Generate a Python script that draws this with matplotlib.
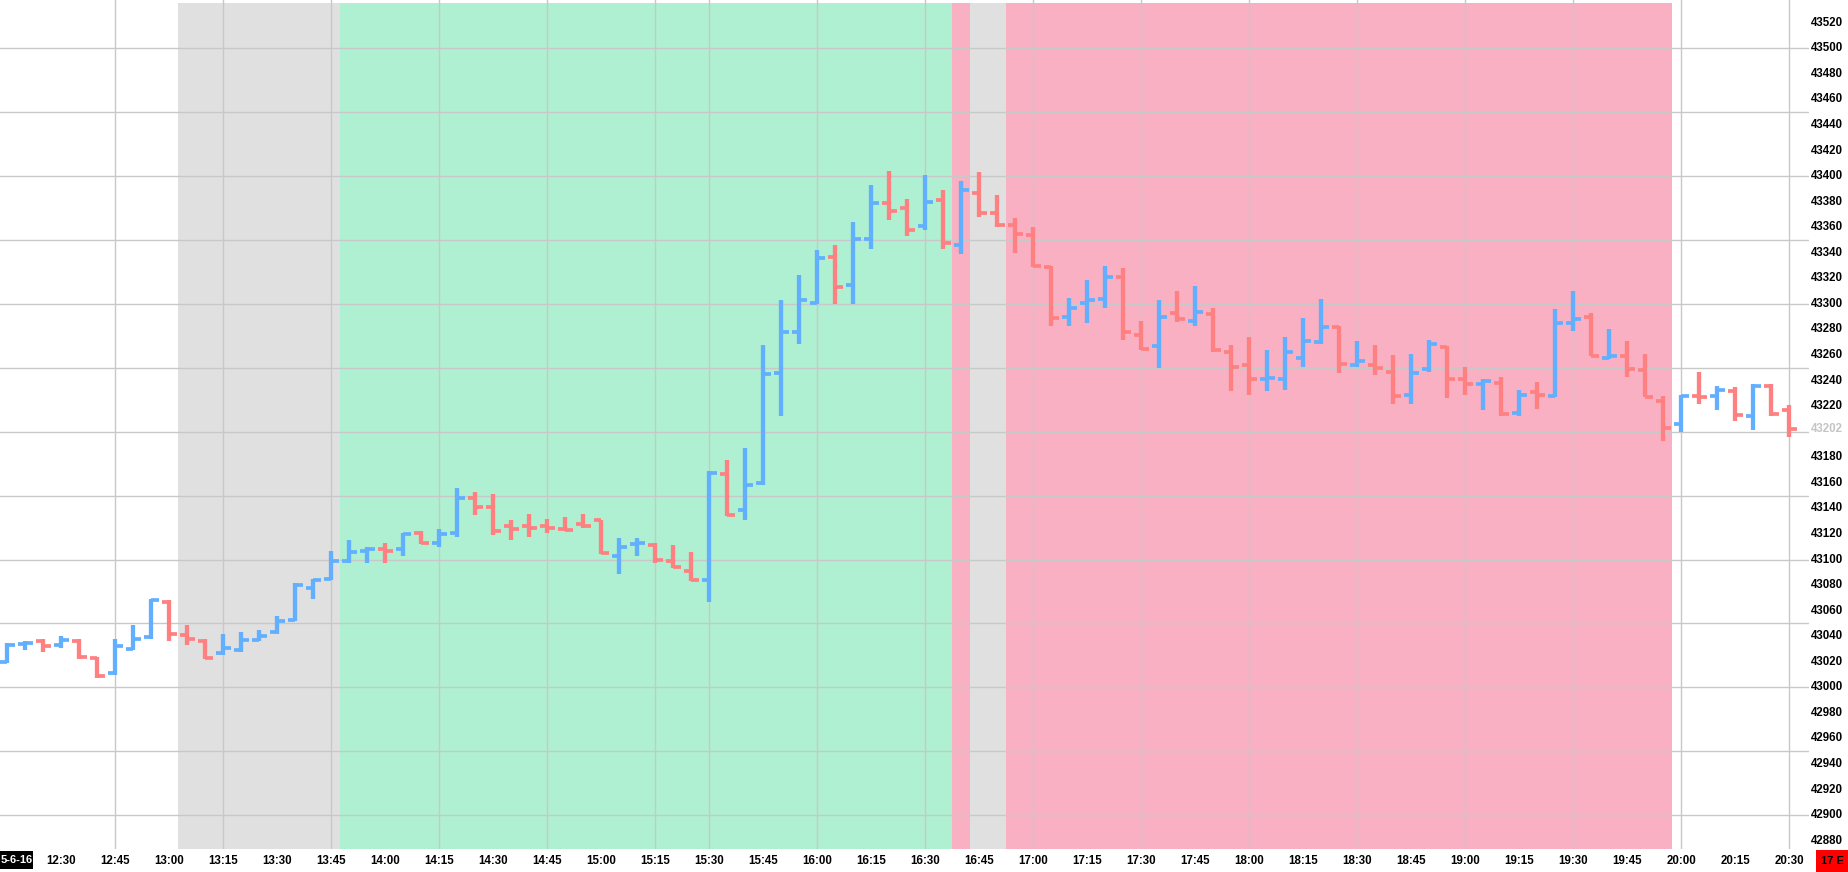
import matplotlib
matplotlib.use('Agg')
import matplotlib.pyplot as plt
from matplotlib.patches import Rectangle
from matplotlib.transforms import blended_transform_factory

# ---------------- data ----------------
bar_times = ['12:15', '12:20', '12:25', '12:30', '12:35', '12:40', '12:45', '12:50', '12:55',
             '13:00', '13:05', '13:10', '13:15', '13:20', '13:25', '13:30', '13:35', '13:40',
             '13:45', '13:50', '13:55', '14:00', '14:05', '14:10', '14:15', '14:20', '14:25',
             '14:30', '14:35', '14:40', '14:45', '14:50', '14:55', '15:00', '15:05', '15:10',
             '15:15', '15:20', '15:25', '15:30', '15:35', '15:40', '15:45', '15:50', '15:55',
             '16:00', '16:05', '16:10', '16:15', '16:20', '16:25', '16:30', '16:35', '16:40',
             '16:45', '16:50', '16:55', '17:00', '17:05', '17:10', '17:15', '17:20', '17:25',
             '17:30', '17:35', '17:40', '17:45', '17:50', '17:55', '18:00', '18:05', '18:10',
             '18:15', '18:20', '18:25', '18:30', '18:35', '18:40', '18:45', '18:50', '18:55',
             '19:00', '19:05', '19:10', '19:15', '19:20', '19:25', '19:30', '19:35', '19:40',
             '19:45', '19:50', '19:55', '20:00', '20:05', '20:10', '20:15', '20:20', '20:25',
             '20:30']

opens = [43020, 43034, 43036, 43033, 43036, 43023, 43011, 43030, 43039,
         43067, 43041, 43036, 43027, 43029, 43037, 43043, 43053, 43078,
         43085, 43099, 43107, 43108, 43108, 43121, 43113, 43121, 43148,
         43141, 43126, 43126, 43126, 43124, 43128, 43131, 43103, 43112,
         43111, 43099, 43091, 43084, 43167, 43139, 43160, 43246, 43278,
         43301, 43337, 43315, 43351, 43379, 43375, 43361, 43381, 43346,
         43387, 43371, 43362, 43354, 43329, 43290, 43301, 43304, 43321,
         43276, 43267, 43293, 43287, 43292, 43262, 43252, 43241, 43241,
         43258, 43270, 43282, 43252, 43252, 43247, 43229, 43249, 43266,
         43241, 43237, 43238, 43215, 43231, 43228, 43285, 43290, 43258,
         43259, 43248, 43224, 43206, 43228, 43228, 43232, 43212, 43236,
         43217]

highs = [43035, 43036, 43038, 43040, 43038, 43024, 43038, 43049, 43069,
         43068, 43049, 43038, 43042, 43043, 43045, 43056, 43082, 43085,
         43107, 43115, 43110, 43113, 43121, 43122, 43124, 43156, 43153,
         43151, 43131, 43136, 43132, 43133, 43136, 43131, 43117, 43117,
         43113, 43111, 43106, 43169, 43178, 43187, 43268, 43303, 43323,
         43342, 43346, 43364, 43393, 43404, 43382, 43401, 43389, 43396,
         43403, 43385, 43367, 43360, 43330, 43305, 43319, 43330, 43328,
         43287, 43303, 43310, 43314, 43297, 43268, 43274, 43264, 43274,
         43289, 43304, 43283, 43271, 43268, 43260, 43261, 43272, 43267,
         43251, 43241, 43243, 43233, 43239, 43296, 43310, 43293, 43280,
         43271, 43261, 43228, 43229, 43247, 43236, 43235, 43237, 43237,
         43221]

lows = [43019, 43029, 43028, 43031, 43022, 43007, 43010, 43029, 43038,
        43036, 43033, 43022, 43025, 43028, 43036, 43042, 43052, 43069,
        43084, 43097, 43097, 43097, 43103, 43112, 43110, 43118, 43135,
        43119, 43115, 43118, 43121, 43122, 43125, 43104, 43089, 43103,
        43097, 43093, 43083, 43067, 43134, 43131, 43158, 43212, 43269,
        43300, 43300, 43300, 43343, 43366, 43353, 43358, 43343, 43339,
        43368, 43360, 43340, 43329, 43283, 43283, 43285, 43297, 43272,
        43264, 43250, 43286, 43283, 43262, 43232, 43229, 43232, 43233,
        43251, 43269, 43246, 43251, 43244, 43222, 43222, 43247, 43226,
        43229, 43217, 43212, 43212, 43218, 43227, 43279, 43259, 43257,
        43243, 43227, 43193, 43200, 43222, 43217, 43208, 43201, 43212,
        43196]

closes = [43033, 43035, 43032, 43037, 43024, 43009, 43032, 43038, 43068,
          43042, 43038, 43023, 43031, 43037, 43040, 43052, 43080, 43084,
          43099, 43106, 43108, 43107, 43120, 43113, 43120, 43148, 43141,
          43122, 43124, 43125, 43125, 43123, 43126, 43105, 43110, 43113,
          43100, 43094, 43084, 43168, 43135, 43158, 43245, 43278, 43303,
          43336, 43313, 43351, 43379, 43373, 43358, 43380, 43348, 43389,
          43371, 43362, 43355, 43330, 43289, 43297, 43303, 43321, 43278,
          43265, 43290, 43288, 43294, 43264, 43251, 43241, 43242, 43262,
          43271, 43282, 43253, 43255, 43250, 43228, 43246, 43269, 43241,
          43237, 43240, 43214, 43229, 43229, 43285, 43288, 43259, 43259,
          43249, 43227, 43203, 43228, 43227, 43233, 43213, 43236, 43214,
          43202]

time_labels = ['12:30', '12:45', '13:00', '13:15', '13:30', '13:45', '14:00', '14:15', '14:30',
               '14:45', '15:00', '15:15', '15:30', '15:45', '16:00', '16:15', '16:30', '16:45',
               '17:00', '17:15', '17:30', '17:45', '18:00', '18:15', '18:30', '18:45', '19:00',
               '19:15', '19:30', '19:45', '20:00', '20:15', '20:30']

vgrid_times = ['12:45', '13:15', '13:45', '14:15', '14:45', '15:15', '15:30', '16:00', '16:30',
               '17:00', '17:30', '18:00', '18:30', '19:00', '19:30', '20:00', '20:30']

hgrid_prices = [42900, 42950, 43000, 43050, 43100, 43150, 43200, 43250, 43300, 43350,
                43400, 43450, 43500]

price_labels = [42880, 42900, 42920, 42940, 42960, 42980, 43000, 43020, 43040, 43060,
                43080, 43100, 43120, 43140, 43160, 43180, 43220, 43240, 43260, 43280,
                43300, 43320, 43340, 43360, 43380, 43400, 43420, 43440, 43460, 43480,
                43500, 43520]
last_price = 43202

session_start = ['13:05', '13:50', '16:40', '16:45', '16:55']
session_end = ['13:45', '16:35', '16:40', '16:50', '19:55']
session_colors = ['#e0e0e0', '#aef0d1', '#f8b0c2', '#e0e0e0', '#f8b0c2']

date_label = '5-6-16'
corner_label = '17 E'

# ---------------- style ----------------
W, H = 1848, 872
DPI = 100
UP = '#61affe'
DOWN = '#fe8080'
GRID = '#c8c8c8'
FONT = ['Liberation Sans', 'DejaVu Sans']
PX = 72.0 / DPI  # points per pixel

fig = plt.figure(figsize=(W / DPI, H / DPI), dpi=DPI, facecolor='white')
plot_bottom_px = 849
plot_right_px = 1809
ax = fig.add_axes([0, (H - plot_bottom_px) / H, plot_right_px / W, plot_bottom_px / H])
ax.set_facecolor('white')
for s in ax.spines.values():
    s.set_visible(False)
ax.set_xticks([])
ax.set_yticks([])

pos = {t: i for i, t in enumerate(bar_times)}
ax.set_xlim(-0.406, 100.094)
ax.set_ylim(42873.5, 43537.8)

# sessions shading
shade_top = (plot_bottom_px - 3) / plot_bottom_px
for s, e, c in zip(session_start, session_end, session_colors):
    ax.axvspan(pos[s] - 0.5, pos[e] + 0.5, ymin=0, ymax=shade_top, color=c, lw=0, zorder=0)

# grid
for p in hgrid_prices:
    ax.axhline(p, color=GRID, lw=1.0, zorder=1)
for t in vgrid_times:
    ax.axvline(pos[t], color=GRID, lw=1.0, zorder=1)

# OHLC bars
xs = list(range(len(bar_times)))
cols = [UP if c >= o else DOWN for o, c in zip(opens, closes)]
tick_len = 7.5 / 18.0
ax.vlines(xs, lows, highs, colors=cols, linewidth=4.3 * PX, capstyle='butt', zorder=3)
ax.hlines(opens, [x - tick_len for x in xs], xs, colors=cols, linewidth=3.7 * PX,
          capstyle='butt', zorder=3)
ax.hlines(closes, xs, [x + tick_len for x in xs], colors=cols, linewidth=3.7 * PX,
          capstyle='butt', zorder=3)

# x labels
trans_x = blended_transform_factory(ax.transData, fig.transFigure)
label_y = 1 - 861 / H
for t in time_labels:
    ax.text(pos[t], label_y, t, transform=trans_x, ha='center', va='center',
            fontsize=8.3, fontweight='bold', family=FONT, color='black', clip_on=False)

# price labels
trans_y = blended_transform_factory(fig.transFigure, ax.transData)
for p in price_labels:
    ax.text(1843 / W, p, str(p), transform=trans_y, ha='right', va='center',
            fontsize=8.3, fontweight='bold', family=FONT, color='black', clip_on=False)
ax.text(1843 / W, last_price, str(last_price), transform=trans_y, ha='right', va='center',
        fontsize=8.3, fontweight='bold', family=FONT, color='#c4c4c4', clip_on=False)

# date box (bottom-left)
fig.patches.append(Rectangle((0, 1 - 869 / H), 33 / W, 18 / H, transform=fig.transFigure,
                             facecolor='black', edgecolor='none', zorder=5))
fig.text(16.5 / W, 1 - 860 / H, date_label, ha='center', va='center', fontsize=8,
         fontweight='bold', family=FONT, color='white', zorder=6)

# corner box (bottom-right)
fig.patches.append(Rectangle((1816 / W, 0), 32 / W, 22 / H, transform=fig.transFigure,
                             facecolor='#ff0000', edgecolor='none', zorder=5))
fig.text(1832 / W, 1 - 861 / H, corner_label, ha='center', va='center', fontsize=8,
         fontweight='bold', family=FONT, color='black', zorder=6)

fig.savefig('out.png', dpi=DPI, facecolor='white')
